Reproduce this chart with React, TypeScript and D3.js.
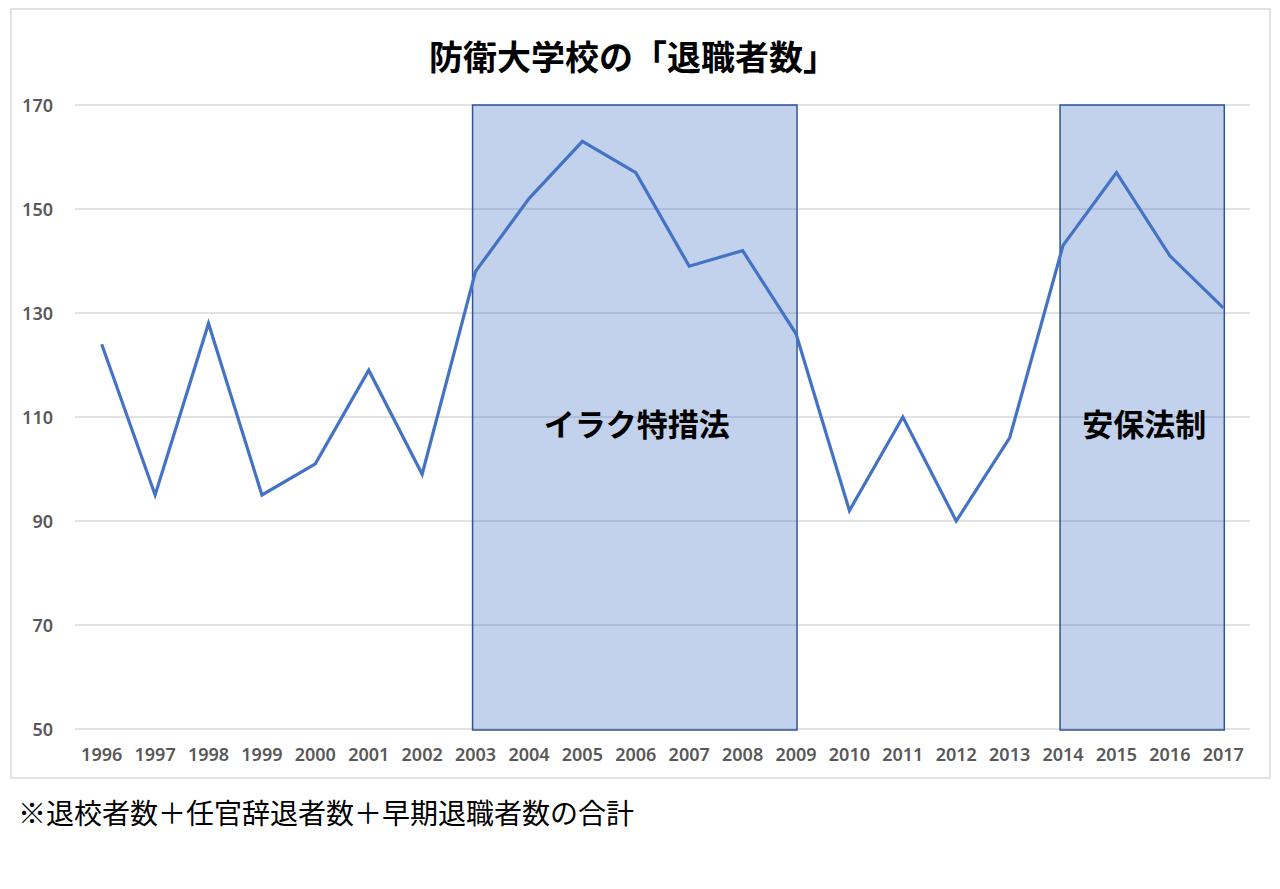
import React from 'react';
import * as d3 from 'd3';

const years = [
  '1996', '1997', '1998', '1999', '2000', '2001', '2002', '2003', '2004', '2005', '2006',
  '2007', '2008', '2009', '2010', '2011', '2012', '2013', '2014', '2015', '2016', '2017',
];
const retirees = [124, 95, 128, 95, 101, 119, 99, 138, 152, 163, 157, 139, 142, 126, 92, 110, 90, 106, 143, 157, 141, 131];
const yTicks = [50, 70, 90, 110, 130, 150, 170];
const periods = [
  { label: 'イラク特措法', from: '2003', to: '2009' },
  { label: '安保法制', from: '2014', to: '2017' },
];

const title = '防衛大学校の「退職者数」';
const note = '※退校者数＋任官辞退者数＋早期退職者数の合計';

const W = 1280;
const H = 889;
const jp = '"Noto Sans CJK JP", "Noto Sans", sans-serif';
const num = '"Noto Sans", "Open Sans", sans-serif';

const App: React.FC = () => {
  const x = d3.scaleBand<string>().domain(years).range([75, 1250]);
  const y = d3.scaleLinear().domain([50, 170]).range([729, 105]);
  const cx = (d: string) => (x(d) ?? 0) + x.bandwidth() / 2;

  const line = d3
    .line<number>()
    .x((_, i) => cx(years[i]))
    .y(d => y(d));

  return (
    <div style={{ position: 'absolute', left: 0, top: 0 }}>
      <svg width={W} height={H} style={{ display: 'block', background: '#fff' }}>
        <rect x={11} y={9} width={1259} height={769} fill="#fff" stroke="#d9d9d9" strokeWidth={1.5} />

        <text x={633} y={55} textAnchor="middle" dominantBaseline="central"
          fontFamily={jp} fontWeight={700} fontSize={34} fill="#000">
          {title}
        </text>

        {yTicks.map(t => (
          <g key={t}>
            <line x1={75} x2={1250} y1={y(t)} y2={y(t)} stroke="#d9d9d9" strokeWidth={1.5} />
            <text x={53} y={y(t)} textAnchor="end" dominantBaseline="central"
              fontFamily={num} fontWeight={600} fontSize={18} fill="#595959">
              {t}
            </text>
          </g>
        ))}

        {years.map(d => (
          <text key={d} x={cx(d)} y={754} textAnchor="middle" dominantBaseline="central"
            fontFamily={num} fontWeight={600} fontSize={18} fill="#595959">
            {d}
          </text>
        ))}

        {periods.map(p => {
          const x0 = cx(p.from) - 3;
          const x1 = cx(p.to) + 1;
          return (
            <rect key={p.label} x={x0} y={y(170)} width={x1 - x0} height={y(50) - y(170) + 1}
              fill="rgb(68,114,196)" fillOpacity={0.32} stroke="#2f5597" strokeWidth={1.5} />
          );
        })}

        <path d={line(retirees) ?? ''} fill="none" stroke="#4472c4" strokeWidth={3.2}
          strokeLinejoin="miter" />

        {periods.map(p => {
          const mid = (cx(p.from) + cx(p.to)) / 2 + 1;
          return (
            <text key={p.label} x={mid} y={y(110) + 5} textAnchor="middle" dominantBaseline="central"
              fontFamily={jp} fontWeight={700} fontSize={31} fill="#000">
              {p.label}
            </text>
          );
        })}

        <text x={18} y={812} dominantBaseline="central" fontFamily={jp} fontWeight={400}
          fontSize={28} fill="#000">
          {note}
        </text>
      </svg>
    </div>
  );
};

export default App;
